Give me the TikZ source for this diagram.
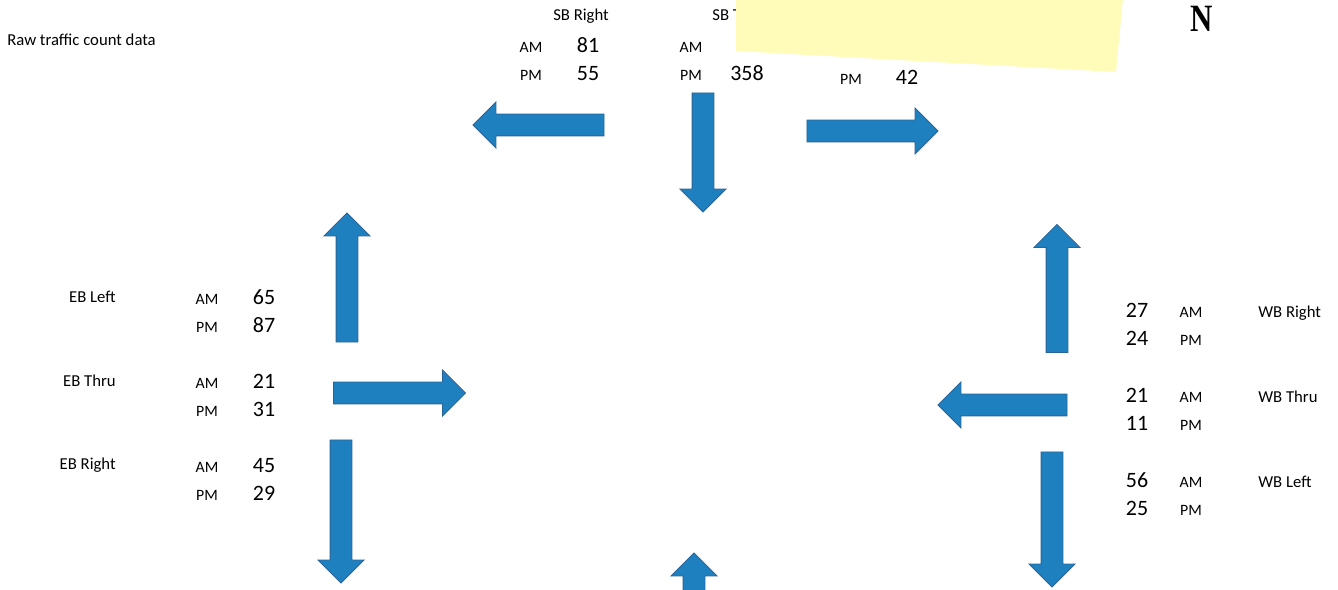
\documentclass[tikz,border=0pt]{standalone}
\usepackage{fontspec}
\setmainfont{Carlito}
\newfontfamily\compassfont{Liberation Serif}
\usetikzlibrary{shapes.arrows}
\definecolor{ArrowBlue}{HTML}{1F80C0}
\definecolor{ArrowEdge}{HTML}{2A6496}
\definecolor{NoteYellow}{HTML}{FFFBB9}
\tikzset{
    % Block arrows for the turning movements
    flowarrow/.style={
        single arrow,
        draw=ArrowEdge,
        fill=ArrowBlue,
        line width=0.5pt,
        inner xsep=0pt,
        inner ysep=0.21cm,
        single arrow head extend=0.24cm,
        minimum width=0pt
    },
    % Text styles
    movebox/.style={
        inner sep=0pt,
        font=\fontsize{9.5}{11}\selectfont
    },
    periodbox/.style={
        inner sep=0pt,
        anchor=base,
        font=\fontsize{9}{11}\selectfont
    },
    countbox/.style={
        inner sep=0pt,
        anchor=base,
        font=\fontsize{12.5}{14}\selectfont
    }
}
\begin{document}
\begin{tikzpicture}[x=0.02cm, y=-0.02cm]
    \useasboundingbox (0,0) rectangle (1338,590);
    \clip (0,0) rectangle (1338,590);

    \node[movebox, anchor=base west] (title) at (7,46) {Raw traffic count data};
    \node[inner sep=0pt, anchor=base, xscale=0.8, font=\compassfont\bfseries\fontsize{22}{24}\selectfont] (north) at (1202,32) {N};

    % Southbound
    \node[movebox, anchor=base] (sbr) at (581,21) {SB Right};
    \node[periodbox] (sbr-am) at (531,53) {AM};
    \node[countbox] (sbr-amv) at (588,53) {81};
    \node[periodbox] (sbr-pm) at (531,81) {PM};
    \node[countbox] (sbr-pmv) at (588,81) {55};

    \node[movebox, anchor=base west] (sbt) at (712,21) {SB T};
    \node[periodbox] (sbt-am) at (691,53) {AM};
    \node[periodbox] (sbt-pm) at (691,81) {PM};
    \node[countbox] (sbt-pmv) at (747,81) {358};

    \node[periodbox] (sbl-pm) at (851,85) {PM};
    \node[countbox] (sbl-pmv) at (907,85) {42};

    % Sticky note
    \fill[NoteYellow] (736,-2) -- (1123,-2) -- (1116,72) -- (736,51) -- cycle;

    % Eastbound
    \node[movebox, anchor=base east] (ebl) at (116,303) {EB Left};
    \node[periodbox] (ebl-am) at (207,305) {AM};
    \node[countbox] (ebl-amv) at (264,305) {65};
    \node[periodbox] (ebl-pm) at (207,333) {PM};
    \node[countbox] (ebl-pmv) at (264,333) {87};

    \node[movebox, anchor=base east] (ebt) at (116,387) {EB Thru};
    \node[periodbox] (ebt-am) at (207,389) {AM};
    \node[countbox] (ebt-amv) at (264,389) {21};
    \node[periodbox] (ebt-pm) at (207,417) {PM};
    \node[countbox] (ebt-pmv) at (264,417) {31};

    \node[movebox, anchor=base east] (ebr) at (116,470) {EB Right};
    \node[periodbox] (ebr-am) at (207,473) {AM};
    \node[countbox] (ebr-amv) at (264,473) {45};
    \node[periodbox] (ebr-pm) at (207,501) {PM};
    \node[countbox] (ebr-pmv) at (264,501) {29};

    % Westbound
    \node[countbox] (wbr-amv) at (1137,318) {27};
    \node[periodbox] (wbr-am) at (1191,318) {AM};
    \node[movebox, anchor=base west] (wbr) at (1258,318) {WB Right};
    \node[countbox] (wbr-pmv) at (1137,346) {24};
    \node[periodbox] (wbr-pm) at (1191,346) {PM};

    \node[countbox] (wbt-amv) at (1137,403) {21};
    \node[periodbox] (wbt-am) at (1191,403) {AM};
    \node[movebox, anchor=base west] (wbt) at (1258,403) {WB Thru};
    \node[countbox] (wbt-pmv) at (1137,431) {11};
    \node[periodbox] (wbt-pm) at (1191,431) {PM};

    \node[countbox] (wbl-amv) at (1137,488) {56};
    \node[periodbox] (wbl-am) at (1191,488) {AM};
    \node[movebox, anchor=base west] (wbl) at (1258,488) {WB Left};
    \node[countbox] (wbl-pmv) at (1137,516) {25};
    \node[periodbox] (wbl-pm) at (1191,516) {PM};

    % Movement arrows
    \node[flowarrow, minimum height=2.62cm, rotate=180] (sbr-arrow) at (544,125) {};
    \node[flowarrow, minimum height=2.38cm, rotate=-90] (sbt-arrow) at (703,147) {};
    \node[flowarrow, minimum height=2.62cm] (sbl-arrow) at (867,131) {};
    \node[flowarrow, minimum height=2.58cm, rotate=90] (ebl-arrow) at (347,283) {};
    \node[flowarrow, minimum height=2.64cm] (ebt-arrow) at (394,393) {};
    \node[flowarrow, minimum height=2.86cm, rotate=-90] (ebr-arrow) at (341,506) {};
    \node[flowarrow, minimum height=2.56cm, rotate=90] (wbr-arrow) at (1057,294) {};
    \node[flowarrow, minimum height=2.58cm, rotate=180] (wbt-arrow) at (1008,405) {};
    \node[flowarrow, minimum height=2.70cm, rotate=-90] (wbl-arrow) at (1052,514) {};
    \node[flowarrow, minimum height=1.34cm, rotate=90] (nbt-arrow) at (694,592) {};
\end{tikzpicture}
\end{document}
